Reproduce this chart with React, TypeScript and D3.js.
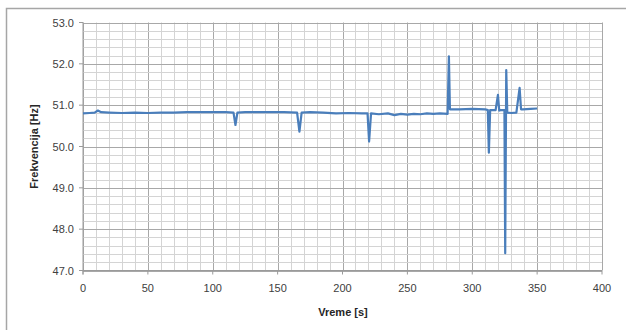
import React from "react";
import * as d3 from "d3";

const times = [
  0, 5, 9, 11.5, 14, 20, 30, 40, 50, 60,
  70, 80, 90, 100, 110, 116, 117.5, 119, 125, 135,
  145, 155, 165, 166.8, 168.5, 175, 185, 195, 205, 215,
  219.3, 220.5, 222, 228, 235, 240, 245, 250, 255, 260,
  265, 270, 275, 281, 282, 282.8, 284, 290, 300, 310,
  312, 312.8, 313.8, 318, 319.8, 320.8, 322, 324.8, 325.4, 326.2,
  327, 330, 334, 336.5, 337.6, 339, 345, 350,
];
const freqs = [
  50.80, 50.81, 50.82, 50.87, 50.83, 50.82, 50.81, 50.82, 50.81, 50.82,
  50.82, 50.83, 50.83, 50.83, 50.83, 50.82, 50.52, 50.82, 50.83, 50.83,
  50.83, 50.83, 50.82, 50.36, 50.82, 50.83, 50.82, 50.80, 50.81, 50.80,
  50.80, 50.12, 50.80, 50.78, 50.80, 50.76, 50.79, 50.77, 50.79, 50.78,
  50.80, 50.79, 50.80, 50.79, 52.18, 50.90, 50.90, 50.90, 50.91, 50.90,
  50.88, 49.85, 50.88, 50.88, 51.25, 50.87, 50.88, 50.88, 47.42, 51.85,
  50.82, 50.81, 50.82, 51.42, 50.90, 50.90, 50.91, 50.92,
];

const xTicks = [0, 50, 100, 150, 200, 250, 300, 350, 400];
const yTicks = [47, 48, 49, 50, 51, 52, 53];
const xTitle = "Vreme [s]";
const yTitle = "Frekvencija [Hz]";

export default function App() {
  const W = 626, H = 330;
  const left = 83, right = 602, top = 22.5, bottom = 270.5;
  const x = d3.scaleLinear().domain([0, 400]).range([left, right]);
  const y = d3.scaleLinear().domain([47, 53]).range([bottom, top]);
  const xMinor = d3.range(0, 401, 10);
  const yMinor = d3.range(0, 31).map((i) => 47 + i * 0.2);
  const pts = times.map((t, i) => [t, freqs[i]] as [number, number]);
  const line = d3.line<[number, number]>().x((d) => x(d[0])).y((d) => y(d[1]));
  const font = "'Liberation Sans', Arial, sans-serif";
  return (
    <svg width={W} height={H} style={{ position: "absolute", left: 0, top: 0, background: "#fff" }}>
      <rect x={0} y={0} width={W} height={H} fill="#fff" />
      <rect x={6.5} y={8.5} width={W + 10} height={H + 10} fill="#fff" stroke="#a6a6a6" strokeWidth={1.5} />
      {xMinor.map((v) => (
        <line key={"xm" + v} x1={Math.round(x(v)) + 0.5} x2={Math.round(x(v)) + 0.5} y1={top} y2={bottom}
          stroke={v % 50 === 0 ? "#a8a8a8" : "#d4d4d4"} strokeWidth={1} />
      ))}
      {yMinor.map((v, i) => (
        <line key={"ym" + i} x1={left} x2={right} y1={Math.round(y(v)) + 0.5} y2={Math.round(y(v)) + 0.5}
          stroke={i % 5 === 0 ? "#a8a8a8" : "#d4d4d4"} strokeWidth={1} />
      ))}
      <line x1={left} x2={left} y1={top} y2={bottom + 4} stroke="#9a9a9a" />
      <line x1={left - 4} x2={right} y1={bottom} y2={bottom} stroke="#9a9a9a" />
      {xTicks.map((v) => (
        <g key={"xt" + v}>
          <line x1={x(v)} x2={x(v)} y1={bottom} y2={bottom + 4} stroke="#9a9a9a" />
          <text x={x(v)} y={292} textAnchor="middle" fontSize={11} fontFamily={font} fill="#404040">{v}</text>
        </g>
      ))}
      {yTicks.map((v) => (
        <g key={"yt" + v}>
          <line x1={left - 4} x2={left} y1={y(v)} y2={y(v)} stroke="#9a9a9a" />
          <text x={74} y={y(v) + 4} textAnchor="end" fontSize={11} fontFamily={font} fill="#404040">{v.toFixed(1)}</text>
        </g>
      ))}
      <path d={line(pts) || ""} fill="none" stroke="#4a7ebb" strokeWidth={2.2} strokeLinejoin="round" />
      <text x={343} y={316} textAnchor="middle" fontSize={11} fontWeight="bold" fontFamily={font} fill="#262626">{xTitle}</text>
      <text transform={`translate(38,${(top + bottom) / 2}) rotate(-90)`} textAnchor="middle" fontSize={11}
        fontWeight="bold" fontFamily={font} fill="#262626">{yTitle}</text>
    </svg>
  );
}
